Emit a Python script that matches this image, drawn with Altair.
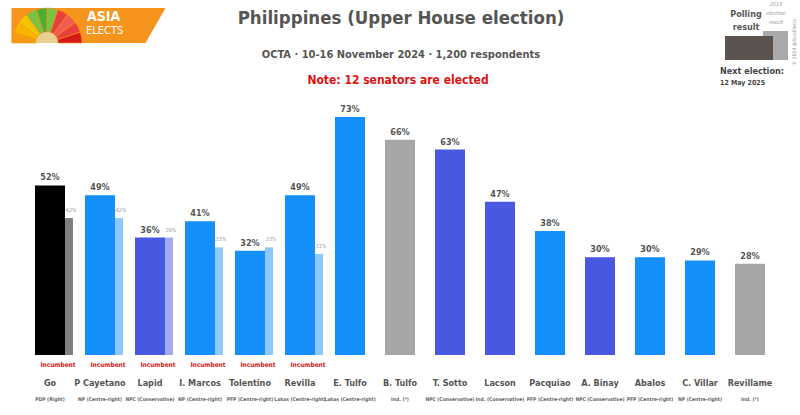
import altair as alt
import pandas as pd
import math

names = ["Go", "P Cayetano", "Lapid", "I. Marcos", "Tolentino", "Revilla", "E. Tulfo",
         "B. Tulfo", "T. Sotto", "Lacson", "Pacquiao", "A. Binay", "Abalos", "C. Villar", "Revillame"]
parties = ["PDP (Right)", "NP (Centre-right)", "NPC (Conservative)", "NP (Centre-right)",
           "PFP (Centre-right)", "Lakas (Centre-right)", "Lakas (Centre-right)", "Ind. (*)",
           "NPC (Conservative)", "Ind. (Conservative)", "PFP (Centre-right)", "NPC (Conservative)",
           "PFP (Centre-right)", "NP (Centre-right)", "Ind. (*)"]
poll = [52, 49, 36, 41, 32, 49, 73, 66, 63, 47, 38, 30, 30, 29, 28]
prev2019 = [42, 42, 36, 33, 33, 31, None, None, None, None, None, None, None, None, None]
incumbent = ["Incumbent"] * 6 + [""] * 9
colors = ["#000000", "#1590fb", "#4858e0", "#1590fb", "#1590fb", "#1590fb", "#1590fb",
          "#a6a6a6", "#4858e0", "#4858e0", "#1590fb", "#4858e0", "#1590fb", "#1590fb", "#a6a6a6"]
prev_colors = ["#808080", "#8fc8fb", "#a2a8f2", "#8fc8fb", "#8fc8fb", "#8fc8fb"] + [""] * 9

df = pd.DataFrame({
    "name": names, "party": parties, "poll": poll, "prev": prev2019,
    "inc": incumbent, "color": colors, "pcolor": prev_colors,
})
df["poll_lbl"] = df["poll"].astype(str) + "%"
df["prev_lbl"] = df["prev"].apply(lambda v: "" if pd.isna(v) else f"{int(v)}%")
dprev = df.dropna(subset=["prev"])

FONT = "DejaVu Sans Condensed, Lato, sans-serif"
TXT = "#555555"

x = alt.X("name:N", sort=names, axis=None, scale=alt.Scale(paddingInner=0, paddingOuter=0))
yscale = alt.Scale(domain=[0, 78.2], nice=False, zero=True)

base = alt.Chart(df)

prev_bars = alt.Chart(dprev).mark_bar(size=8, xOffset=19).encode(
    x=x, y=alt.Y("prev:Q", scale=yscale, axis=None),
    color=alt.Color("pcolor:N", scale=None))
bars = base.mark_bar(size=30).encode(
    x=x, y=alt.Y("poll:Q", scale=yscale, axis=None),
    color=alt.Color("color:N", scale=None))
poll_txt = base.mark_text(dy=-8, fontSize=9, font=FONT, fontWeight="bold", color=TXT).encode(
    x=x, y=alt.Y("poll:Q", scale=yscale), text="poll_lbl:N")
prev_txt = alt.Chart(dprev).mark_text(dy=-8, xOffset=21, fontSize=5.5, font=FONT,
                                      fontStyle="italic", color="#999999").encode(
    x=x, y=alt.Y("prev:Q", scale=yscale), text="prev_lbl:N")
inc_txt = base.mark_text(fontSize=6.5, font=FONT, fontWeight="bold", color="#d42020", xOffset=8).encode(
    x=x, y=alt.value(265), text="inc:N")
name_txt = base.mark_text(fontSize=9, font=FONT, fontWeight="bold", color=TXT).encode(
    x=x, y=alt.value(283), text="name:N")
party_txt = base.mark_text(fontSize=5, font=FONT, fontWeight="bold", color="#666666").encode(
    x=x, y=alt.value(299), text="party:N")

one = pd.DataFrame({"a": [0]})
deco = alt.Chart(one)

title = deco.mark_text(fontSize=18.5, font=FONT, fontWeight="bold", color="#555555").encode(
    x=alt.value(376), y=alt.value(-82), text=alt.value("Philippines (Upper House election)"))
subtitle = deco.mark_text(fontSize=11, font=FONT, fontWeight="bold", color="#555555").encode(
    x=alt.value(376), y=alt.value(-45), text=alt.value("OCTA · 10-16 November 2024 · 1,200 respondents"))
note = deco.mark_text(fontSize=12, font=FONT, fontWeight="bold", color="#e01010").encode(
    x=alt.value(373), y=alt.value(-20), text=alt.value("Note: 12 senators are elected"))

# legend
leg_light = deco.mark_rect(color="#aaaaaa").encode(
    x=alt.value(738), x2=alt.value(763), y=alt.value(-69), y2=alt.value(-40))
leg_dark = deco.mark_rect(color="#5a5350").encode(
    x=alt.value(700), x2=alt.value(748), y=alt.value(-64), y2=alt.value(-40))
leg_t1 = deco.mark_text(fontSize=9, font=FONT, fontWeight="bold", color="#555555").encode(
    x=alt.value(721), y=alt.value(-86), text=alt.value("Polling"))
leg_t2 = deco.mark_text(fontSize=9, font=FONT, fontWeight="bold", color="#555555").encode(
    x=alt.value(721), y=alt.value(-73), text=alt.value("result"))
leg_s = [deco.mark_text(fontSize=5.5, font=FONT, fontStyle="italic", color="#999999").encode(
    x=alt.value(751), y=alt.value(yy), text=alt.value(tt))
    for tt, yy in [("2019", -96), ("election", -87), ("result", -78)]]
nxt1 = deco.mark_text(fontSize=9, font=FONT, fontWeight="bold", color="#444444", align="left").encode(
    x=alt.value(695), y=alt.value(-29), text=alt.value("Next election:"))
nxt2 = deco.mark_text(fontSize=7, font=FONT, fontWeight="bold", color="#444444", align="left").encode(
    x=alt.value(695), y=alt.value(-17), text=alt.value("12 May 2025"))
copy = deco.mark_text(fontSize=5, font=FONT, color="#999999", angle=270).encode(
    x=alt.value(769), y=alt.value(-58), text=alt.value("© 2024 @AsiaElects"))

# logo
banner_path = "M-1,-0.227 L1,-0.227 L0.74,0.227 L-1,0.227 Z"
banner = deco.mark_point(shape=banner_path, filled=True, size=23716, color="#f7941d",
                         opacity=1, strokeWidth=0).encode(x=alt.value(63.5), y=alt.value(-74.5))
wedge_cols = ["#f39c12", "#f7b500", "#f5c400", "#7cc242", "#4caf32", "#7cc242",
              "#e8413c", "#f25c54", "#e8413c", "#d7191c"]
n = len(wedge_cols)
wedges = pd.DataFrame({
    "t0": [1.5 * math.pi + i * math.pi / n for i in range(n)],
    "t1": [1.5 * math.pi + (i + 1) * math.pi / n for i in range(n)],
    "c": wedge_cols,
})
arc = alt.Chart(wedges).mark_arc(radius=35, innerRadius=11, stroke="#f7941d", strokeWidth=0.6).encode(
    theta=alt.Theta("t0:Q", scale=None), theta2="t1",
    color=alt.Color("c:N", scale=None), x=alt.value(22), y=alt.value(-57))
inner = deco.mark_arc(radius=11, color="#e6cf8f", theta=4.712, theta2=7.854).encode(
    x=alt.value(22), y=alt.value(-57))
asia = deco.mark_text(fontSize=14, font=FONT, fontWeight="bold", color="white", align="left").encode(
    x=alt.value(62), y=alt.value(-83), text=alt.value("ASIA"))
elects = deco.mark_text(fontSize=11, font=FONT, color="white", align="left").encode(
    x=alt.value(61), y=alt.value(-69), text=alt.value("ELECTS"))

chart = alt.layer(
    banner, arc, inner, asia, elects,
    title, subtitle, note,
    leg_light, leg_dark, leg_t1, leg_t2, *leg_s, nxt1, nxt2, copy,
    prev_bars, bars, poll_txt, prev_txt, inc_txt, name_txt, party_txt,
).properties(
    width=750, height=255,
    padding={"left": 25, "top": 100, "right": 25, "bottom": 60},
    autosize=alt.AutoSizeParams(type="none"),
    background="white",
).configure_view(stroke=None)

chart.save("out.html", embed_options={"renderer": "svg", "actions": False})
